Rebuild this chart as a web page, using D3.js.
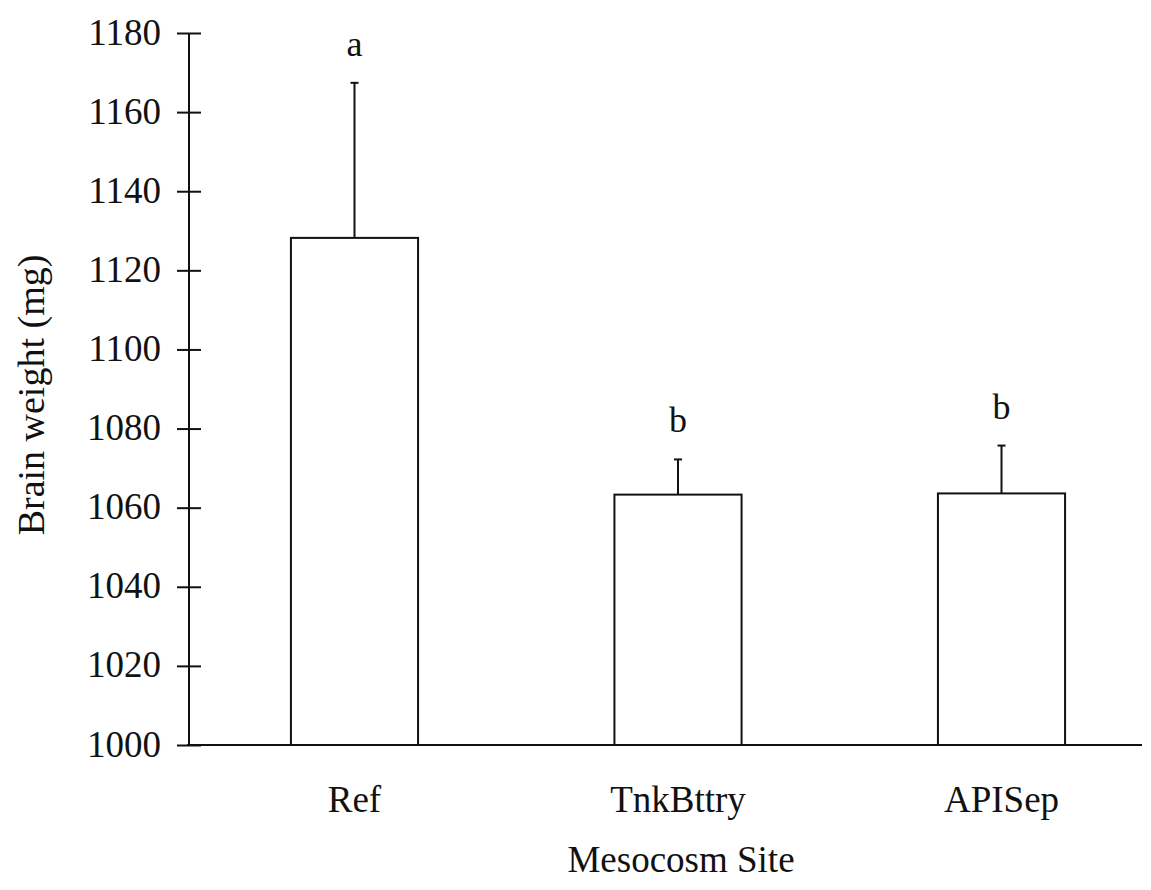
<!DOCTYPE html>
<html>
<head>
<meta charset="utf-8">
<script src="https://cdn.jsdelivr.net/npm/d3@7"></script>
<style>
  body { margin: 0; background: #fff; }
  svg text { font-family: "Liberation Serif", "Times New Roman", serif; fill: #111; }
</style>
</head>
<body>
<div id="chart"></div>
<script>
// datos
const sites = ['Ref', 'TnkBttry', 'APISep'];
const means = [1128.2, 1063.3, 1063.6];
const errTops = [1167.4, 1072.2, 1075.7];
const groupLetters = ['a', 'b', 'b'];
const yTicks = [1000, 1020, 1040, 1060, 1080, 1100, 1120, 1140, 1160, 1180];

const width = 1151, height = 890;
const svg = d3.select('#chart').append('svg')
    .attr('width', width)
    .attr('height', height);

const y = d3.scaleLinear().domain([1000, 1180]).range([745, 33]);
const x = d3.scaleBand().domain(sites)
    .range([190, 1166])
    .paddingInner(0.607)
    .paddingOuter(0.312);

const ink = '#111';

// eje y
const yAxis = svg.append('g')
    .attr('transform', 'translate(189,0)')
    .call(d3.axisLeft(y).tickValues(yTicks).tickSize(12).tickPadding(16).tickFormat(d3.format('d')));
yAxis.select('.domain').remove();
yAxis.selectAll('.tick line')
    .attr('x1', -12).attr('x2', 12)
    .attr('stroke', ink).attr('stroke-width', 2);
yAxis.selectAll('.tick text')
    .style('font-size', '37px')
    .attr('dy', '0.3em');
yAxis.append('line')
    .attr('y1', y(1180)).attr('y2', y(1000))
    .attr('stroke', ink).attr('stroke-width', 2);

// barras
svg.selectAll('.bar')
    .data(sites)
    .enter().append('rect')
    .attr('class', 'bar')
    .attr('x', d => x(d))
    .attr('y', (d, i) => y(means[i]))
    .attr('width', x.bandwidth())
    .attr('height', (d, i) => y(1000) - y(means[i]))
    .attr('fill', '#fff')
    .attr('stroke', ink)
    .attr('stroke-width', 2);

// barras de error
const cx = d => x(d) + x.bandwidth() / 2;
svg.selectAll('.err')
    .data(sites)
    .enter().append('line')
    .attr('x1', cx).attr('x2', cx)
    .attr('y1', (d, i) => y(means[i]))
    .attr('y2', (d, i) => y(errTops[i]))
    .attr('stroke', ink).attr('stroke-width', 2);
svg.selectAll('.cap')
    .data(sites)
    .enter().append('line')
    .attr('x1', d => cx(d) - 4).attr('x2', d => cx(d) + 4)
    .attr('y1', (d, i) => y(errTops[i]))
    .attr('y2', (d, i) => y(errTops[i]))
    .attr('stroke', ink).attr('stroke-width', 2);

// letras de grupo
svg.selectAll('.letter')
    .data(sites)
    .enter().append('text')
    .attr('x', cx)
    .attr('y', (d, i) => y(errTops[i]) - 27)
    .attr('text-anchor', 'middle')
    .style('font-size', '36px')
    .text((d, i) => groupLetters[i]);

// eje x
svg.append('line')
    .attr('x1', 187).attr('x2', 1142)
    .attr('y1', y(1000)).attr('y2', y(1000))
    .attr('stroke', ink).attr('stroke-width', 2);
svg.selectAll('.xlabel')
    .data(sites)
    .enter().append('text')
    .attr('x', cx)
    .attr('y', 812)
    .attr('text-anchor', 'middle')
    .style('font-size', '37px')
    .text(d => d);

// titulos de ejes
svg.append('text')
    .attr('x', 681).attr('y', 872)
    .attr('text-anchor', 'middle')
    .style('font-size', '37px')
    .text('Mesocosm Site');
svg.append('text')
    .attr('transform', 'translate(44,395) rotate(-90)')
    .attr('text-anchor', 'middle')
    .style('font-size', '38px')
    .text('Brain weight (mg)');
</script>
</body>
</html>
